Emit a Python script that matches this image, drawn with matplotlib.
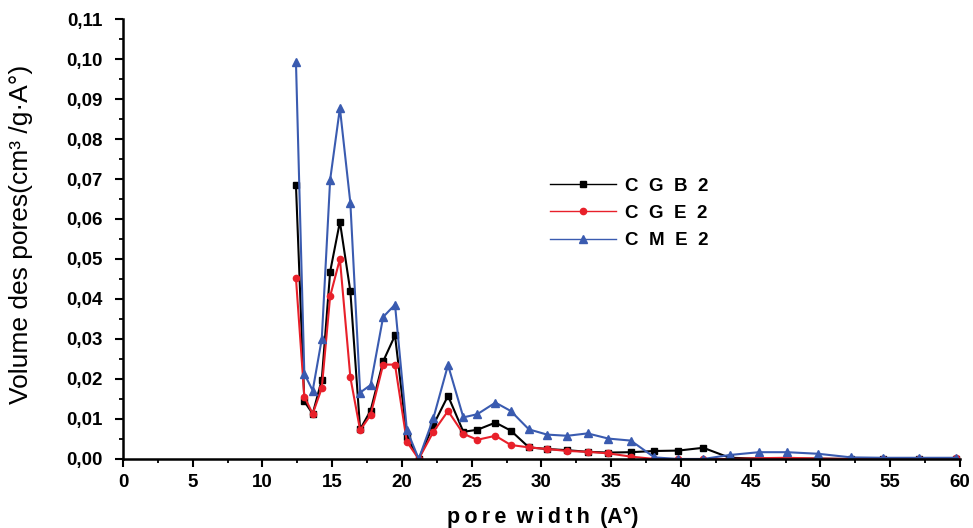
import matplotlib
matplotlib.use("Agg")
import matplotlib.pyplot as plt
from matplotlib.ticker import MultipleLocator, FuncFormatter

plt.rcParams['font.family'] = ['Liberation Sans', 'DejaVu Sans']

# Pore widths (Å)
pore_width = [12.4, 13.0, 13.6, 14.25, 14.85, 15.55, 16.3, 17.0, 17.75, 18.65, 19.5,
              20.35, 21.2, 22.25, 23.3, 24.4, 25.4, 26.7, 27.8, 29.1, 30.4, 31.85,
              33.3, 34.8, 36.4, 38.1, 39.8, 41.6, 43.5, 45.6, 47.6, 49.85, 52.2,
              54.5, 57.05, 59.7]

# Pore volume distributions (cm³/g·Å)
cgb2 = [0.0684, 0.0144, 0.0113, 0.0198, 0.0468, 0.0593, 0.0419, 0.0074, 0.0121,
        0.0244, 0.0309, 0.0056, 0.0000, 0.0085, 0.0158, 0.0068, 0.0073, 0.0091,
        0.0071, 0.0029, 0.0025, 0.0022, 0.0018, 0.0016, 0.0017, 0.0020, 0.0021,
        0.0028, 0.0003, 0.0001, 0.0001, 0.0001, 0.0000, 0.0000, 0.0000, 0.0001]
cge2 = [0.0452, 0.0156, 0.0113, 0.0177, 0.0407, 0.0500, 0.0204, 0.0072, 0.0110,
        0.0236, 0.0236, 0.0043, 0.0000, 0.0068, 0.0120, 0.0063, 0.0048, 0.0058,
        0.0035, 0.0029, 0.0025, 0.0020, 0.0018, 0.0014, 0.0006, 0.0000, 0.0000,
        0.0000, 0.0000, 0.0002, 0.0003, 0.0001, 0.0000, 0.0000, 0.0000, 0.0002]
cme2 = [0.0992, 0.0213, 0.0171, 0.0300, 0.0698, 0.0877, 0.0640, 0.0166, 0.0185,
        0.0355, 0.0386, 0.0073, 0.0000, 0.0102, 0.0235, 0.0104, 0.0112, 0.0141,
        0.0120, 0.0074, 0.0061, 0.0058, 0.0064, 0.0051, 0.0046, 0.0004, 0.0000,
        0.0000, 0.0010, 0.0017, 0.0017, 0.0013, 0.0004, 0.0003, 0.0003, 0.0003]

series_labels = ["C  G  B  2", "C  G  E  2", "C  M  E  2"]

fig = plt.figure(figsize=(9.73, 5.28), dpi=100)
ax = fig.add_axes([0.1264, 0.1307, 0.8602, 0.8333])

ax.plot(pore_width, cgb2, color='black', lw=1.5, marker='s', ms=5, label=series_labels[0])
ax.plot(pore_width, cge2, color='#e8202a', lw=1.5, marker='o', ms=4.5, label=series_labels[1])
ax.plot(pore_width, cme2, color='#3a5bb0', lw=1.5, marker='^', ms=6, label=series_labels[2])

ax.set_xlim(0, 60)
ax.set_ylim(0, 0.11)
ax.xaxis.set_major_locator(MultipleLocator(5))
ax.xaxis.set_minor_locator(MultipleLocator(2.5))
ax.yaxis.set_major_locator(MultipleLocator(0.01))
ax.yaxis.set_minor_locator(MultipleLocator(0.005))
ax.yaxis.set_major_formatter(FuncFormatter(lambda v, p: f"{v:.2f}".replace('.', ',')))

for s in ('top', 'right'):
    ax.spines[s].set_visible(False)
for s in ('left', 'bottom'):
    ax.spines[s].set_linewidth(1.8)

ax.tick_params(which='major', direction='out', length=6, width=1.5, labelsize=13.5)
ax.tick_params(which='minor', direction='out', length=3, width=1.3)
ax.tick_params(axis='y', which='major', pad=8.5)
ax.tick_params(axis='x', which='major', pad=5)
for lab in ax.get_xticklabels() + ax.get_yticklabels():
    lab.set_fontweight('bold')

ax.set_xlabel("p\u2009o\u2009r\u2009e\u2009 w\u2009i\u2009d\u2009t\u2009h\u2009 (A°)",
              fontsize=15.5, fontweight='bold')
ax.xaxis.set_label_coords(0.501, -0.108)
ax.set_ylabel("Volume des pores(cm³ /g·A°)", fontsize=19)
ax.yaxis.set_label_coords(-0.1075, 0.511)

leg = ax.legend(loc='upper left', bbox_to_anchor=(0.510, 0.640), frameon=False,
                borderpad=0, borderaxespad=0,
                handlelength=3.55, handletextpad=0.45, labelspacing=0.55,
                prop={'weight': 'bold', 'size': 13.5})
for line in leg.get_lines():
    line.set_linewidth(1.0)

fig.savefig("out.png", dpi=100)
